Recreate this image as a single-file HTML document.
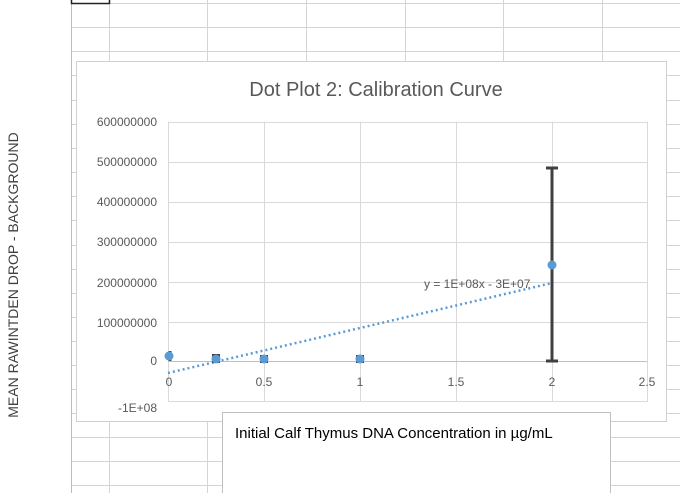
<!DOCTYPE html>
<html><head><meta charset="utf-8"><style>
body{margin:0;width:680px;height:493px;overflow:hidden;background:#fff;font-family:"Liberation Sans",sans-serif}
</style></head><body>
<svg width="680" height="493" xmlns="http://www.w3.org/2000/svg" style="position:absolute;left:0;top:0">
<g stroke="#d4d4d4" stroke-width="1">
<line x1="71.5" y1="0" x2="71.5" y2="493" stroke="#bdbdbd"/>
<line x1="109.5" y1="0" x2="109.5" y2="493"/>
<line x1="207.5" y1="0" x2="207.5" y2="493"/>
<line x1="306.5" y1="0" x2="306.5" y2="493"/>
<line x1="405.5" y1="0" x2="405.5" y2="493"/>
<line x1="503.5" y1="0" x2="503.5" y2="493"/>
<line x1="602.5" y1="0" x2="602.5" y2="493"/>
<line x1="72" y1="3.5" x2="680" y2="3.5"/>
<line x1="72" y1="27.5" x2="680" y2="27.5"/>
<line x1="72" y1="51.5" x2="680" y2="51.5"/>
<line x1="72" y1="75.5" x2="680" y2="75.5"/>
<line x1="72" y1="100.5" x2="680" y2="100.5"/>
<line x1="72" y1="124.5" x2="680" y2="124.5"/>
<line x1="72" y1="148.5" x2="680" y2="148.5"/>
<line x1="72" y1="172.5" x2="680" y2="172.5"/>
<line x1="72" y1="196.5" x2="680" y2="196.5"/>
<line x1="72" y1="220.5" x2="680" y2="220.5"/>
<line x1="72" y1="245.5" x2="680" y2="245.5"/>
<line x1="72" y1="269.5" x2="680" y2="269.5"/>
<line x1="72" y1="293.5" x2="680" y2="293.5"/>
<line x1="72" y1="317.5" x2="680" y2="317.5"/>
<line x1="72" y1="341.5" x2="680" y2="341.5"/>
<line x1="72" y1="365.5" x2="680" y2="365.5"/>
<line x1="72" y1="389.5" x2="680" y2="389.5"/>
<line x1="72" y1="413.5" x2="680" y2="413.5"/>
<line x1="72" y1="437.5" x2="680" y2="437.5"/>
<line x1="72" y1="461.5" x2="680" y2="461.5"/>
<line x1="72" y1="485.5" x2="680" y2="485.5"/>
</g>
<rect x="71.5" y="-2" width="38" height="5.5" fill="none" stroke="#222" stroke-width="1.5"/>
<rect x="76.5" y="61.5" width="590" height="360" fill="#fff" stroke="#d0d0d0"/>
<text x="376" y="96" text-anchor="middle" font-size="20" fill="#595959">Dot Plot 2: Calibration Curve</text>
<g stroke="#d9d9d9">
<line x1="168" y1="122.5" x2="647" y2="122.5"/>
<line x1="168" y1="162.5" x2="647" y2="162.5"/>
<line x1="168" y1="202.5" x2="647" y2="202.5"/>
<line x1="168" y1="242.5" x2="647" y2="242.5"/>
<line x1="168" y1="282.5" x2="647" y2="282.5"/>
<line x1="168" y1="322.5" x2="647" y2="322.5"/>
<line x1="168" y1="401.5" x2="647" y2="401.5"/>
<line x1="168.5" y1="122" x2="168.5" y2="402"/>
<line x1="264.5" y1="122" x2="264.5" y2="402"/>
<line x1="360.5" y1="122" x2="360.5" y2="402"/>
<line x1="456.5" y1="122" x2="456.5" y2="402"/>
<line x1="552.5" y1="122" x2="552.5" y2="402"/>
<line x1="647.5" y1="122" x2="647.5" y2="402"/>
</g>
<line x1="168" y1="361.5" x2="647" y2="361.5" stroke="#bfbfbf"/>
<g font-size="12" fill="#595959" text-anchor="end">
<text x="157" y="126">600000000</text>
<text x="157" y="166">500000000</text>
<text x="157" y="206">400000000</text>
<text x="157" y="246">300000000</text>
<text x="157" y="287">200000000</text>
<text x="157" y="327">100000000</text>
<text x="157" y="365">0</text>
<text x="157" y="412">-1E+08</text>
</g>
<g font-size="12" fill="#595959" text-anchor="middle">
<text x="169" y="386">0</text>
<text x="264" y="386">0.5</text>
<text x="360" y="386">1</text>
<text x="456" y="386">1.5</text>
<text x="552" y="386">2</text>
<text x="647" y="386">2.5</text>
</g>
<line x1="168" y1="373" x2="552" y2="283" stroke="#5b9bd5" stroke-width="2.5" stroke-dasharray="2,3"/>
<g stroke="#404040" stroke-width="3">
<line x1="552" y1="168" x2="552" y2="361"/>
<line x1="546" y1="168" x2="558" y2="168"/>
<line x1="546" y1="361" x2="558" y2="361"/>
<line x1="170" y1="351" x2="170" y2="361"/>
<line x1="216" y1="355" x2="216" y2="361"/>
</g>
<g stroke="#404040" stroke-width="2" fill="none">
<rect x="213" y="355" width="6" height="7"/>
<rect x="261" y="356" width="6" height="6"/>
<rect x="357" y="356" width="6" height="6"/>
</g>
<g fill="#5b9bd5">
<circle cx="169" cy="356" r="4.5"/>
<circle cx="216" cy="359" r="4.5"/>
<circle cx="264" cy="359" r="4.5"/>
<circle cx="360" cy="359" r="4.5"/>
<circle cx="552" cy="265" r="4.5"/>
</g>
<text x="424" y="288" font-size="12" fill="#595959">y = 1E+08x - 3E+07</text>
<text transform="translate(18,275) rotate(-90)" text-anchor="middle" font-size="14" fill="#404040">MEAN RAWINTDEN DROP - BACKGROUND</text>
<rect x="222.5" y="412.5" width="388" height="85" fill="#fff" stroke="#bfbfbf"/>
<text x="235" y="438" font-size="15" fill="#000">Initial Calf Thymus DNA Concentration in µg/mL</text>
</svg>
</body></html>
